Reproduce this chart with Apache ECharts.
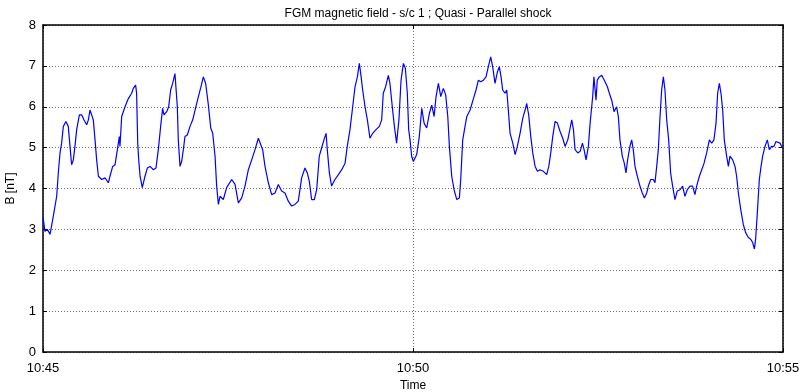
<!DOCTYPE html>
<html>
<head>
<meta charset="utf-8">
<script src="https://cdn.jsdelivr.net/npm/echarts@6/dist/echarts.min.js"></script>
<style>
html,body{margin:0;padding:0;background:#fff;}
#chart{width:802px;height:392px;}
</style>
</head>
<body>
<div id="chart"></div>
<script>
// Time in seconds after 10:45:00
const times = [
0,1.6,3.5,5.7,8.4,11.1,12.4,13.8,15.1,16.5,18.6,20.5,21.9,23.2,24.6,25.9,27.3,29.5,31.4,33.2,35.4,36.8,38.1,39.5,40.8,42.2,43.5,44.9,47.6,50.3,53.0,54.3,56.5,58.4,60.3,61.9,62.4,63.8,66.5,69.2,71.9,73.2,75.1,75.9,76.8,77.6,78.7,80.5,82.7,84.6,86.8,89.5,91.6,93.5,95.4,97.0,98.1,100.3,101.9,103.5,105.1,107.0,108.4,108.9,109.7,111.1,112.4,113.8,115.1,117.0,119.2,121.4,123.3,126.0,128.1,130.0,131.9,134.1,136.0,137.6,139.5,140.8,142.2,143.5,
146.2,148.9,153.0,155.7,157.0,158.4,161.1,163.8,166.5,169.2,171.9,174.6,175.9,178.1,180.0,182.7,185.4,188.1,190.8,193.5,196.2,198.9,201.6,204.3,207.0,209.7,212.4,214.3,215.9,217.8,220.0,221.9,224.0,225.9,227.8,229.5,230.5,232.2,234.0,236.7,239.5,242.2,244.9,246.7,248.9,251.1,253.0,254.9,256.5,257.6,259.2,261.1,263.0,265.1,267.3,270.0,272.7,274.6,275.9,277.8,280.0,281.3,283.2,284.9,286.7,288.6,290.3,292.2,293.8,295.4,296.5,297.6,298.9,300.3,303.0,305.1,
307.1,309.0,311.1,313.3,315.2,317.1,318.7,320.6,322.5,324.6,326.5,328.2,329.5,331.4,333.3,335.5,337.6,338.7,340.3,342.2,343.6,346.3,349.0,351.1,353.0,354.9,357.1,359.2,361.1,363.0,364.6,366.5,368.4,370.0,371.4,372.7,374.6,376.0,377.3,378.7,380.9,382.8,384.6,386.8,389.0,390.9,392.2,393.8,395.5,397.1,399.0,400.9,403.0,405.7,408.4,410.1,411.7,413.3,415.2,417.1,419.2,421.4,423.3,425.5,427.4,428.7,430.1,431.4,433.6,435.5,437.4,438.7,440.3,442.2,443.6,
445.7,446.7,448.4,449.4,451.1,453.0,454.3,455.7,457.6,459.2,461.1,463.0,465.1,466.5,467.8,469.7,471.3,472.7,474.0,475.9,477.3,478.6,480.0,481.9,484.0,485.9,487.6,489.5,490.8,492.7,494.9,496.2,497.6,498.9,500.3,501.6,503.0,504.3,505.7,507.3,508.9,510.5,512.4,514.3,516.5,518.6,520.5,522.4,524.6,526.7,528.6,530.0,532.2,534.1,536.0,538.1,540.3,542.2,544.0,545.7,547.0,548.4,549.7,551.1,552.4,554.3,555.7,557.0,559.2,561.1,562.4,563.8,565.7,567.8,569.7,571.9,573.8,575.4,576.8,577.8,579.2,580.8,582.2,583.5,585.4,587.3,588.9,590.8,592.7,594.3,595.7,597.6,598.9,600.0
];
// Magnetic field magnitude B [nT]
const bValues = [
3.30,2.95,3.00,2.88,3.33,3.81,4.38,4.87,5.11,5.52,5.64,5.52,5.03,4.58,4.70,5.03,5.44,5.80,5.80,5.68,5.56,5.68,5.92,5.88,5.68,5.19,4.70,4.30,4.22,4.26,4.14,4.30,4.54,4.58,4.95,5.27,5.03,5.76,6.00,6.20,6.33,6.45,6.53,6.33,5.11,4.70,4.30,4.02,4.30,4.50,4.54,4.46,4.50,4.95,5.52,5.96,5.80,5.88,6.00,6.41,6.57,6.81,6.85,6.00,5.19,4.54,4.66,4.95,5.27,5.31,5.52,5.68,5.92,6.25,6.49,6.73,6.57,6.04,5.48,5.35,4.79,4.06,3.61,3.81,
3.73,4.02,4.22,4.10,4.10,3.65,3.77,4.06,4.46,4.70,4.95,5.23,5.19,4.95,4.54,4.14,3.85,3.89,4.10,3.94,3.89,3.69,3.57,3.61,3.69,4.26,4.50,4.38,4.18,3.73,3.73,3.97,4.79,4.99,5.19,5.35,4.95,4.38,4.06,4.22,4.34,4.46,4.62,5.03,5.44,6.00,6.49,6.73,7.06,6.81,6.41,6.00,5.68,5.23,5.35,5.44,5.52,5.68,6.33,6.49,6.77,6.57,6.00,5.52,5.11,5.68,6.65,7.06,6.94,6.33,5.44,5.19,4.79,4.66,4.83,5.27,
5.96,5.60,5.48,5.84,6.04,5.76,6.25,6.57,6.25,6.45,6.29,5.76,5.03,4.30,3.97,3.73,3.77,4.22,5.19,5.52,5.76,5.92,6.20,6.41,6.65,6.61,6.65,6.73,6.98,7.22,6.98,6.57,6.85,6.98,6.73,6.41,6.33,6.41,5.92,5.35,5.11,4.83,5.03,5.35,5.72,5.92,6.08,5.80,5.27,4.87,4.54,4.42,4.46,4.42,4.34,4.54,4.87,5.27,5.64,5.60,5.40,5.23,5.03,5.19,5.48,5.68,5.44,4.95,4.87,4.91,5.11,4.95,4.70,5.03,5.60,
6.25,6.73,6.16,6.65,6.73,6.77,6.81,6.61,6.49,6.33,6.16,5.88,6.00,5.76,5.19,4.79,4.62,4.38,4.70,5.03,5.19,4.95,4.54,4.30,4.06,3.89,3.77,3.89,4.06,4.22,4.22,4.14,4.54,4.95,5.76,6.41,6.73,6.41,5.68,5.19,4.38,4.06,3.73,3.94,3.97,4.06,3.81,3.97,4.06,4.06,3.85,4.06,4.30,4.46,4.62,4.87,5.19,5.11,5.19,5.60,6.33,6.57,6.33,5.92,5.19,4.79,4.54,4.79,4.70,4.54,4.30,3.89,3.49,3.12,2.92,2.80,2.76,2.68,2.52,2.76,3.41,4.22,4.54,4.79,5.03,5.19,4.95,5.03,5.03,5.15,5.19,5.11,5.03,4.99
];
const xTickLabels = ['10:45', '10:50', '10:55'];
const yTickLabels = ['0','1','2','3','4','5','6','7','8'];
const titleText = 'FGM magnetic field - s/c 1 ; Quasi - Parallel shock';

const chart = echarts.init(document.getElementById('chart'), null, {renderer: 'canvas'});
const FONT = 'Liberation Sans, Arial, sans-serif';
const gridSplit = {show: true, lineStyle: {type: [1, 2], color: '#707070', width: 1}};
const lineData = times.map((t, i) => [t, bValues[i]]);

chart.setOption({
  animation: false,
  backgroundColor: '#ffffff',
  title: {
    text: titleText, left: 413, top: 3, textAlign: 'center',
    textStyle: {fontFamily: FONT, fontSize: 12, fontWeight: 'normal', color: '#000'}
  },
  grid: {left: 43, right: 19, top: 25, bottom: 40, containLabel: false, outerBoundsMode: 'none'},
  xAxis: [{
    type: 'value', min: 0, max: 600, interval: 300, position: 'bottom',
    name: 'Time', nameLocation: 'middle', nameGap: 26,
    nameTextStyle: {fontFamily: FONT, fontSize: 12, color: '#000'},
    axisLine: {show: true, onZero: false, lineStyle: {color: '#000', width: 1.5}},
    axisTick: {show: true, inside: true, length: 4, lineStyle: {color: '#000'}},
    axisLabel: {fontFamily: FONT, fontSize: 13, color: '#000', margin: 10,
      formatter: v => xTickLabels[Math.round(v / 300)] || ''},
    splitLine: gridSplit
  }, {
    type: 'value', min: 0, max: 600, interval: 300, position: 'top',
    axisLine: {show: true, onZero: false, lineStyle: {color: '#000', width: 1.5}},
    axisTick: {show: true, inside: true, length: 4, lineStyle: {color: '#000'}},
    axisLabel: {show: false}, splitLine: {show: false}
  }],
  yAxis: [{
    type: 'value', min: 0, max: 8, interval: 1, position: 'left',
    name: 'B [nT]', nameLocation: 'middle', nameGap: 26, nameRotate: 90,
    nameTextStyle: {fontFamily: FONT, fontSize: 12, color: '#000'},
    axisLine: {show: true, onZero: false, lineStyle: {color: '#000', width: 1.5}},
    axisTick: {show: true, inside: true, length: 4, lineStyle: {color: '#000'}},
    axisLabel: {fontFamily: FONT, fontSize: 13, color: '#000', margin: 7, padding: [3, 0, 0, 0],
      formatter: v => yTickLabels[Math.round(v)] || ''},
    splitLine: gridSplit
  }, {
    type: 'value', min: 0, max: 8, interval: 1, position: 'right',
    axisLine: {show: true, onZero: false, lineStyle: {color: '#000', width: 1.5}},
    axisTick: {show: true, inside: true, length: 4, lineStyle: {color: '#000'}},
    axisLabel: {show: false}, splitLine: {show: false}
  }],
  series: [{
    type: 'line', xAxisIndex: 0, yAxisIndex: 0,
    data: lineData, showSymbol: false, symbol: 'none',
    lineStyle: {color: '#0000ff', width: 1.2}
  }]
});
</script>
</body>
</html>
